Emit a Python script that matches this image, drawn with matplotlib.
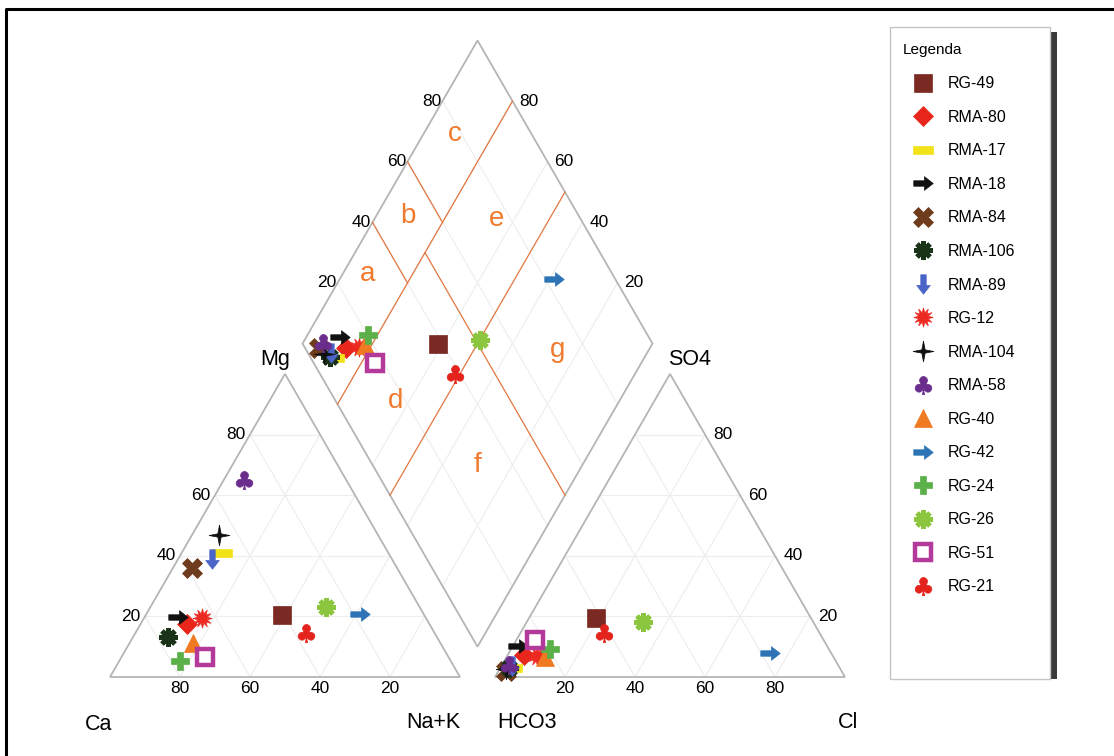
import numpy as np
import matplotlib
matplotlib.use("Agg")
import matplotlib.pyplot as plt
from matplotlib.path import Path
from matplotlib.patches import Rectangle, Polygon
from matplotlib.lines import Line2D

plt.rcParams['font.family'] = ['Liberation Sans', 'DejaVu Sans']

# samples (percent of meq)
samples = ['RG-49', 'RMA-80', 'RMA-17', 'RMA-18', 'RMA-84', 'RMA-106', 'RMA-89', 'RG-12',
           'RMA-104', 'RMA-58', 'RG-40', 'RG-42', 'RG-24', 'RG-26', 'RG-51', 'RG-21']
ca = [40.7, 69.3, 47.6, 70.5, 58.6, 76.7, 51.5, 64.1, 45.3, 29.1, 70.7, 18.2, 77.3, 26.8, 69.5, 36.8]
mg = [20.5, 17.5, 41.0, 19.9, 36.1, 13.3, 38.8, 19.4, 46.9, 65.0, 11.3, 20.7, 5.3, 23.2, 6.7, 14.6]
nak = [38.8, 13.2, 11.4, 9.6, 5.3, 10.0, 9.7, 16.5, 7.8, 5.9, 18.0, 61.1, 17.4, 50.0, 23.8, 48.6]
hco3 = [61.4, 88.2, 93.5, 88.2, 96.0, 94.5, 93.5, 84.5, 95.5, 94.0, 82.4, 17.5, 79.7, 48.7, 82.5, 61.6]
so4 = [19.4, 7.3, 3.0, 10.2, 2.0, 3.0, 3.5, 7.0, 2.5, 4.0, 6.7, 7.8, 9.2, 18.3, 12.2, 14.4]
cl = [19.2, 4.5, 3.5, 1.6, 2.0, 2.5, 3.0, 8.5, 2.0, 2.0, 10.9, 74.7, 11.1, 33.0, 5.3, 24.0]

ticks = [20, 40, 60, 80]

# zones of the diamond: label, Ca+Mg %, SO4+Cl %
zone_labels = ['a', 'b', 'c', 'd', 'e', 'f', 'g']
zone_cm = [93, 91, 91, 64, 65, 30, 26]
zone_sc = [30, 51, 78, 17, 76, 30, 72]
# zone boundaries: (Ca+Mg start, SO4+Cl start, Ca+Mg end, SO4+Cl end)
zone_lines = [(80, 0, 80, 100), (50, 0, 50, 100), (0, 50, 80, 50),
              (80, 40, 100, 40), (80, 60, 100, 60)]

s = np.sqrt(3) / 2


def cat_xy(na, m):
    return na + 0.5 * m, s * m


def an_xy(c, so):
    return 1.1 + c + 0.5 * so, s * so


def dia_xy(a, b):
    return 1.05 + 0.5 * (b - a), s * 0.1 + s * (a + b)


# custom markers
arrow_r = Path([(1, 0), (0.1, 0.7), (0.1, 0.28), (-1, 0.28), (-1, -0.28), (0.1, -0.28), (0.1, -0.7), (1, 0)])
arrow_d = Path([(0, -1), (0.7, -0.1), (0.28, -0.1), (0.28, 1), (-0.28, 1), (-0.28, -0.1), (-0.7, -0.1), (0, -1)])
star4 = Path([(0, 1), (0.16, 0.16), (1, 0), (0.16, -0.16), (0, -1), (-0.16, -0.16), (-1, 0), (-0.16, 0.16), (0, 1)])
pill = Path([(-1, -0.42), (1, -0.42), (1, 0.42), (-1, 0.42), (-1, -0.42)])

styles = [
    dict(marker='s', color='#7a2a22', ms=13),
    dict(marker='D', color='#e8261c', ms=10),
    dict(marker=pill, color='#f2e21a', ms=15),
    dict(marker=arrow_r, color='#111111', ms=14),
    dict(marker='X', color='#6e3b1c', ms=14),
    dict(marker=(8, 2, 0), color='#1a3318', ms=13, mew=3.5),
    dict(marker=arrow_d, color='#4a64c8', ms=14),
    dict(marker=(12, 1, 0), color='#ec2a22', ms=14),
    dict(marker=star4, color='#111111', ms=15),
    dict(marker=r'$\clubsuit$', color='#6a2d8c', ms=13),
    dict(marker='^', color='#f07a22', ms=13),
    dict(marker=arrow_r, color='#2c74b5', ms=14),
    dict(marker='P', color='#5bb04a', ms=13),
    dict(marker=(8, 2, 0), color='#8cc63e', ms=13, mew=3.5),
    dict(marker='s', color='#b3399a', ms=12, mfc='white', mew=3.2),
    dict(marker=r'$\clubsuit$', color='#e3231c', ms=13),
]

fig = plt.figure(figsize=(11.14, 7.56), dpi=100)
ax = fig.add_axes([0, 0, 1, 1])
ax.set_xlim(-110 / 350, 1004 / 350)
ax.set_ylim(-79 / 350, 677 / 350)
ax.axis('off')

grid_c = '#ededed'
edge_c = '#b5b5b5'
zone_c = '#e2773e'

# faint grid
for t in np.array(ticks) / 100:
    for x0 in (0, 1.1):
        ax.plot([x0 + 0.5 * t, x0 + 1 - 0.5 * t], [s * t, s * t], color=grid_c, lw=0.8, zorder=1)
        ax.plot([x0 + t, x0 + t + 0.5 * (1 - t)], [0, s * (1 - t)], color=grid_c, lw=0.8, zorder=1)
        ax.plot([x0 + 1 - t, x0 + 0.5 * (1 - t)], [0, s * (1 - t)], color=grid_c, lw=0.8, zorder=1)
    p0, p1 = dia_xy(t, 0), dia_xy(t, 1)
    ax.plot([p0[0], p1[0]], [p0[1], p1[1]], color=grid_c, lw=0.8, zorder=1)
    p0, p1 = dia_xy(0, t), dia_xy(1, t)
    ax.plot([p0[0], p1[0]], [p0[1], p1[1]], color=grid_c, lw=0.8, zorder=1)

# outlines
ax.add_patch(Polygon([(0, 0), (1, 0), (0.5, s)], closed=True, fill=False, ec=edge_c, lw=1.3, zorder=2))
ax.add_patch(Polygon([(1.1, 0), (2.1, 0), (1.6, s)], closed=True, fill=False, ec=edge_c, lw=1.3, zorder=2))
ax.add_patch(Polygon([dia_xy(0, 0), dia_xy(1, 0), dia_xy(1, 1), dia_xy(0, 1)], closed=True,
                     fill=False, ec=edge_c, lw=1.3, zorder=2))

# zone lines and letters
for a0, b0, a1, b1 in zone_lines:
    p0, p1 = dia_xy(a0 / 100, b0 / 100), dia_xy(a1 / 100, b1 / 100)
    ax.plot([p0[0], p1[0]], [p0[1], p1[1]], color=zone_c, lw=0.9, zorder=3)
for lab, a, b in zip(zone_labels, zone_cm, zone_sc):
    x, y = dia_xy(a / 100, b / 100)
    ax.text(x, y, lab, color='#f07a2e', fontsize=20, ha='center', va='center', zorder=3)

# tick labels
tfs = 12.5
for v in ticks:
    t = v / 100
    ax.annotate(str(v), (1 - t, 0), xytext=(0, -8.6), textcoords='offset points',
                ha='center', va='center', fontsize=tfs)
    ax.annotate(str(v), cat_xy(0, t), xytext=(-3, 0), textcoords='offset points',
                ha='right', va='center', fontsize=tfs)
    ax.annotate(str(v), an_xy(t, 0), xytext=(0, -8.6), textcoords='offset points',
                ha='center', va='center', fontsize=tfs)
    ax.annotate(str(v), an_xy(1 - t, t), xytext=(6, 0), textcoords='offset points',
                ha='left', va='center', fontsize=tfs)
    ax.annotate(str(v), dia_xy(1, t), xytext=(-1, 0), textcoords='offset points',
                ha='right', va='center', fontsize=tfs)
    ax.annotate(str(v), dia_xy(t, 1), xytext=(5, 0), textcoords='offset points',
                ha='left', va='center', fontsize=tfs)

# axis names
afs = 15.5
ax.text(0.471, 0.906, 'Mg', fontsize=afs, ha='center', va='center')
ax.text(1.657, 0.906, 'SO4', fontsize=afs, ha='center', va='center')
ax.text(-0.034, -0.137, 'Ca', fontsize=afs, ha='center', va='center')
ax.text(0.923, -0.131, 'Na+K', fontsize=afs, ha='center', va='center')
ax.text(1.191, -0.131, 'HCO3', fontsize=afs, ha='center', va='center')
ax.text(2.109, -0.131, 'Cl', fontsize=afs, ha='center', va='center')

# samples
handles = []
for i, name in enumerate(samples):
    tot_c = ca[i] + mg[i] + nak[i]
    tot_a = hco3[i] + so4[i] + cl[i]
    cx, cy = cat_xy(nak[i] / tot_c, mg[i] / tot_c)
    axx, ayy = an_xy(cl[i] / tot_a, so4[i] / tot_a)
    dx, dy = dia_xy((ca[i] + mg[i]) / tot_c, (so4[i] + cl[i]) / tot_a)
    st = styles[i]
    kw = dict(marker=st['marker'], color=st['color'], markersize=st['ms'], linestyle='none',
              markeredgecolor=st['color'], markerfacecolor=st.get('mfc', st['color']),
              markeredgewidth=st.get('mew', 0.5), zorder=5 + i * 0.01)
    h, = ax.plot([cx, axx, dx], [cy, ayy, dy], label=name, **kw)
    handles.append(h)

# legend box with shadow
fig.add_artist(Rectangle((1050 / 1114, 1 - 679 / 756), 7 / 1114, 647 / 756, transform=fig.transFigure,
                         facecolor='#3a3a3a', edgecolor='none', zorder=1))
fig.add_artist(Rectangle((890 / 1114, 1 - 679 / 756), 160 / 1114, 652 / 756, transform=fig.transFigure,
                         facecolor='white', edgecolor='#c4c4c4', lw=1.0, zorder=1))
fig.text(903 / 1114, 1 - 50 / 756, 'Legenda', fontsize=11, ha='left', va='center', zorder=3)
leg = fig.legend(handles=handles, loc='upper left', bbox_to_anchor=(901 / 1114, 1 - 62 / 756),
                 bbox_transform=fig.transFigure, frameon=False, fontsize=11.5, labelspacing=1.16,
                 handlelength=1.0, handletextpad=1.0, borderpad=0.4, numpoints=1)
leg.set_zorder(4)

# outer frame (top and left)
fig.add_artist(Line2D([6 / 1114, 6 / 1114, 1], [0, 1 - 9 / 756, 1 - 9 / 756], transform=fig.transFigure,
                      color='black', lw=2.2))

fig.savefig('out.png', dpi=100)
